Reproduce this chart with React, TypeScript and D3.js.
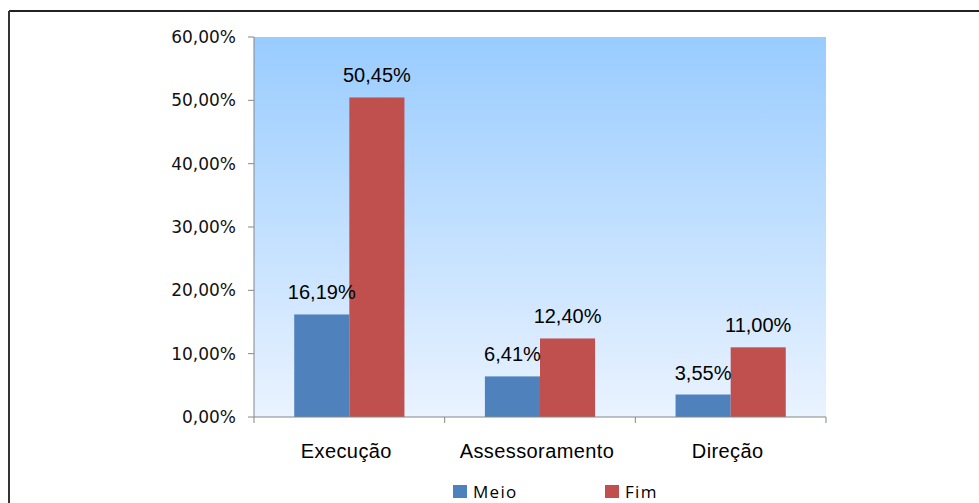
import React from "react";
import * as d3 from "d3";

const categories = ["Execução", "Assessoramento", "Direção"];
const seriesNames = ["Meio", "Fim"];
const meio = [16.19, 6.41, 3.55];
const fim = [50.45, 12.4, 11.0];
const yTicks = [0, 10, 20, 30, 40, 50, 60];
const colors = ["#4F81BD", "#C0504D"];

const fmt = (v: number) => v.toFixed(2).replace(".", ",") + "%";

export default function App() {
  const W = 979, H = 503;
  const left = 254, right = 826, top = 37, bottom = 417;
  const x = d3.scaleBand<string>().domain(categories).range([left, right]).paddingInner(0).paddingOuter(0);
  const y = d3.scaleLinear().domain([0, 60]).range([bottom, top]);
  const series = [meio, fim];
  const bw = x.bandwidth();
  const groupW = bw * 0.578;
  const barW = groupW / 2;

  return (
    <svg width={W} height={H} style={{ position: "absolute", left: 0, top: 0, background: "#fff" }}>
      <defs>
        <linearGradient id="bg" x1="0" y1="0" x2="0" y2="1">
          <stop offset="0" stopColor="#99CCFF" />
          <stop offset="1" stopColor="#EAF3FF" />
        </linearGradient>
      </defs>
      <line x1={9} y1={11} x2={W} y2={11} stroke="#222" strokeWidth={2} />
      <line x1={9} y1={11} x2={9} y2={H} stroke="#333" strokeWidth={2} />
      <rect x={left} y={top} width={right - left} height={bottom - top} fill="url(#bg)" />
      {categories.map((c, i) => {
        const gx = (x(c) as number) + (bw - groupW) / 2;
        return series.map((s, j) => (
          <rect key={c + j} x={gx + j * barW} y={y(s[i])} width={barW} height={bottom - y(s[i])} fill={colors[j]} />
        ));
      })}
      {categories.map((c, i) => {
        const gx = (x(c) as number) + (bw - groupW) / 2;
        return series.map((s, j) => (
          <text key={"l" + c + j} x={gx + j * barW + barW / 2} y={y(s[i]) - 15} textAnchor="middle"
            fontFamily="'Liberation Sans', Arial, sans-serif" fontSize={20} fill="#000">
            {fmt(s[i])}
          </text>
        ));
      })}
      <line x1={left} y1={top} x2={left} y2={bottom} stroke="#868686" strokeWidth={1} />
      {yTicks.map((t) => (
        <g key={t}>
          <line x1={left - 6} x2={left} y1={y(t)} y2={y(t)} stroke="#868686" />
          <text x={236} y={y(t) + 6} textAnchor="end" fontFamily="'DejaVu Sans', sans-serif" fontSize={17} fill="#111">
            {fmt(t)}
          </text>
        </g>
      ))}
      <line x1={left} y1={bottom} x2={right} y2={bottom} stroke="#868686" strokeWidth={1} />
      {[...categories.map((c) => x(c) as number), right].map((v, i) => (
        <line key={"t" + i} x1={v} x2={v} y1={bottom} y2={bottom + 6} stroke="#868686" />
      ))}
      {categories.map((c) => (
        <text key={"c" + c} x={(x(c) as number) + bw / 2 - 3} y={458} textAnchor="middle"
          fontFamily="'Liberation Sans', Arial, sans-serif" fontSize={20} letterSpacing={0.4} fill="#000">
          {c}
        </text>
      ))}
      {seriesNames.map((n, j) => {
        const lx = [453, 605][j];
        return (
          <g key={n}>
            <rect x={lx} y={485} width={14} height={13} fill={colors[j]} />
            <text x={lx + 20} y={498} fontFamily="'Open Sans', sans-serif" fontSize={17} letterSpacing={1.3} fill="#000">
              {n}
            </text>
          </g>
        );
      })}
    </svg>
  );
}
